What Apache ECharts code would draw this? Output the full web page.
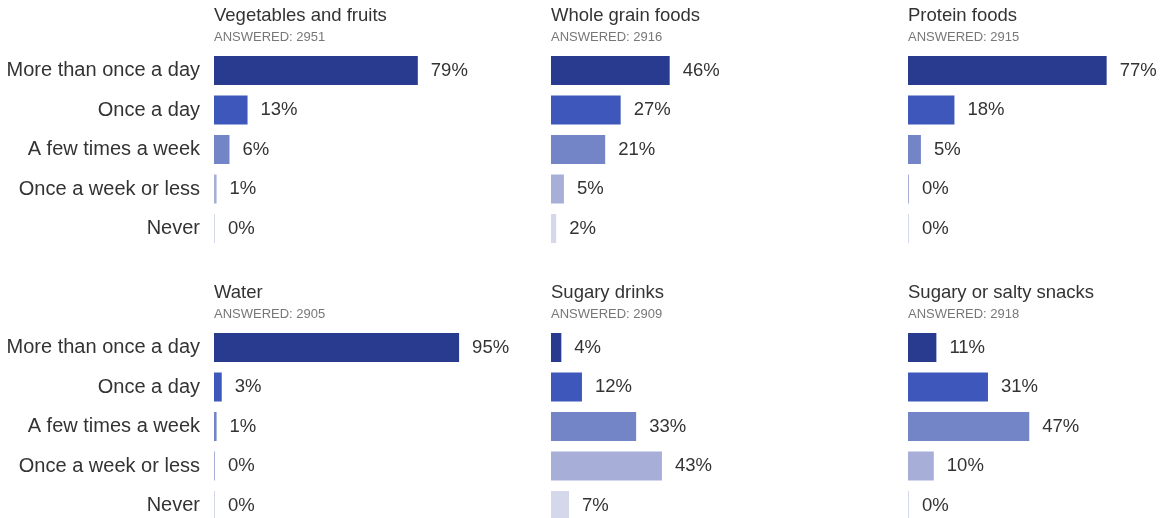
<!DOCTYPE html>
<html><head><meta charset="utf-8">
<script src="https://cdn.jsdelivr.net/npm/echarts@6/dist/echarts.min.js"></script>
<style>html,body{margin:0;padding:0;background:#fff}#c{width:1161px;height:518px}</style>
</head><body><div id="c"></div>
<script>
const categories = ["More than once a day","Once a day","A few times a week","Once a week or less","Never"];
const titles = ["Vegetables and fruits","Whole grain foods","Protein foods","Water","Sugary drinks","Sugary or salty snacks"];
const answered = [2951, 2916, 2915, 2905, 2909, 2918];
const vegetables = [79, 13, 6, 1, 0];
const wholeGrain = [46, 27, 21, 5, 2];
const protein = [77, 18, 5, 0, 0];
const water = [95, 3, 1, 0, 0];
const sugaryDrinks = [4, 12, 33, 43, 7];
const snacks = [11, 31, 47, 10, 0];
const colors = ["#283b8e", "#3d57ba", "#7384c7", "#a7afd8", "#d4d8ea"];

const panels = [vegetables, wholeGrain, protein, water, sugaryDrinks, snacks];
const lefts = [214, 551, 908];
const tops = [50.75, 327.75];
const FONT = "'Liberation Sans', Arial, sans-serif";

const option = {animation:false, title:[], grid:[], xAxis:[], yAxis:[], series:[]};
panels.forEach((vals, i) => {
  const col = i % 3, row = Math.floor(i / 3);
  option.title.push({
    text: titles[i], subtext: "ANSWERED: " + answered[i],
    left: lefts[col], top: row === 0 ? 6 : 283, itemGap: 6, padding: 0,
    textStyle:{fontFamily:FONT, fontSize:18.5, fontWeight:'normal', color:'#333'},
    subtextStyle:{fontFamily:FONT, fontSize:13, color:'#777'}
  });
  option.grid.push({left: lefts[col], top: tops[row], width: 258, height: 197.5,
    outerBoundsMode: 'none'});
  option.xAxis.push({gridIndex:i, type:'value', min:0, max:100, show:false});
  option.yAxis.push({gridIndex:i, type:'category', data:categories, inverse:true,
    axisLine:{show:false}, axisTick:{show:false},
    axisLabel:{show: col === 0, fontFamily:FONT, fontSize:20, color:'#333', margin:14}});
  option.series.push({
    type:'bar', xAxisIndex:i, yAxisIndex:i, data: vals, barWidth: 29, barMinHeight: 1,
    itemStyle:{color: p => colors[p.dataIndex]},
    label:{show:true, position:'right', distance:13, formatter:'{c}%',
      fontFamily:FONT, fontSize:18.5, color:'#333'}
  });
});
echarts.init(document.getElementById('c'), null, {renderer:'canvas'}).setOption(option);
</script></body></html>
